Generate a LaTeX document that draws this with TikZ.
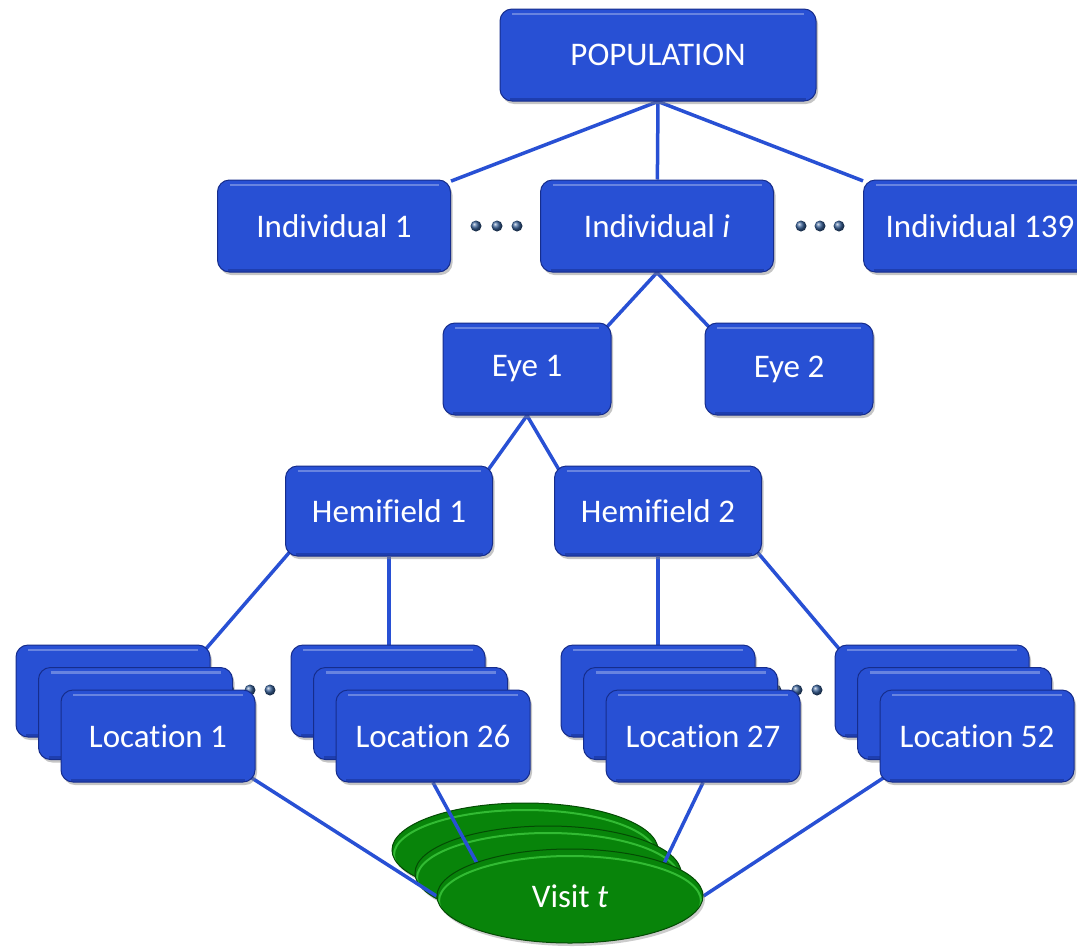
\documentclass[tikz,border=0pt]{standalone}
\usepackage{fontspec}
\setmainfont{Carlito}[Ligatures={NoCommon}]
\usetikzlibrary{shapes.geometric, shadows}

\definecolor{boxblue}{RGB}{40,80,212}
\definecolor{rimblue}{RGB}{22,45,140}
\definecolor{visitgreen}{RGB}{8,132,10}
\definecolor{rimgreen}{RGB}{4,75,4}
\definecolor{beadblue}{RGB}{55,95,150}

\pgfdeclarelayer{ground}
\pgfdeclarelayer{links}
\pgfsetlayers{ground,links,main}

\tikzset{
  block/.style={rectangle, rounded corners=12pt, draw=rimblue, line width=1pt, fill=boxblue,
    text=white, font=\fontsize{33}{36}\selectfont, inner sep=0pt,
    drop shadow={shadow xshift=2pt, shadow yshift=-3pt, opacity=0.45},
    path picture={\draw[white, opacity=0.3, line width=2.5pt]
      ([xshift=12pt, yshift=-5pt]path picture bounding box.north west) --
      ([xshift=-12pt, yshift=-5pt]path picture bounding box.north east);
      \draw[rimblue, opacity=0.5, line width=3pt]
      ([xshift=10pt, yshift=2pt]path picture bounding box.south west) --
      ([xshift=-10pt, yshift=2pt]path picture bounding box.south east);}},
  locbox/.style={block, minimum width=194pt, minimum height=92pt},
  visit/.style={ellipse, draw=rimgreen, line width=1pt, fill=visitgreen, text=white,
    font=\fontsize{33}{36}\selectfont, inner sep=0pt, minimum width=266pt, minimum height=94pt,
    drop shadow={shadow xshift=2pt, shadow yshift=-3pt, opacity=0.4},
    path picture={\draw[green!60!white, opacity=0.45, line width=2pt]
      ([yshift=-5pt]path picture bounding box.center) ellipse [x radius=131pt, y radius=45pt];}},
  link/.style={draw=boxblue, line width=3.5pt},
  bead/.style={circle, ball color=beadblue, minimum size=11pt, inner sep=0pt}
}

\begin{document}
\begin{tikzpicture}[x=1pt, y=-1pt]
\useasboundingbox (0,0) rectangle (1077,948);
\clip (0,0) rectangle (1077,948);

\begin{pgfonlayer}{ground}
  \fill[white] (0,0) rectangle (1077,948);
  \node[visit] (visit-back) at (525,850) {};
  \node[visit] (visit-mid) at (548,873) {};
\end{pgfonlayer}
\node[visit] (visit) at (570,896) {Visit \textit{t}};

\node[block, minimum width=316pt, minimum height=92pt] (pop) at (658,55) {POPULATION};
\foreach \x/\n/\t in {334/ind1/1, 657/indi/\textit{i}, 980/ind139/139}
  \node[block, minimum width=233pt, minimum height=92pt] (\n) at (\x,226) {Individual \t};

\node[block, minimum width=168pt, minimum height=92pt] (eye1) at (527,369) {Eye 1};
\node[block, minimum width=168pt, minimum height=92pt] (eye2) at (789,369) {Eye 2};

\node[block, minimum width=207pt, minimum height=90pt] (hem1) at (389,511) {Hemifield 1};
\node[block, minimum width=207pt, minimum height=90pt] (hem2) at (658,511) {Hemifield 2};

\foreach \x/\y [count=\k] in {476/226, 497/226, 517/226, 801/226, 820/226, 839/226,
                              229/690, 250/690, 270/690, 776/690, 797/690, 817/690}
  \node[bead] (bead\k) at (\x,\y) {};

\foreach \x/\n/\t in {158/loc1/1, 433/loc26/26, 703/loc27/27, 977/loc52/52}
{
  \node[locbox] (\n-back) at (\x-45,691) {};
  \node[locbox] (\n-mid) at (\x-22.5,713.5) {};
  \node[locbox] (\n) at (\x,736) {Location \t};
}

\coordinate (v26) at (484,876);
\coordinate (v27) at (658,876);

\begin{pgfonlayer}{links}
  \foreach \n in {ind1, indi, ind139}
    \draw[link] (pop.south) -- (\n);
  \draw[link] (indi.south) -- ([shift={(-6,6)}]eye1.north east);
  \draw[link] (indi.south) -- ([shift={(6,6)}]eye2.north west);
  \draw[link] (eye1.south) -- ([shift={(-6,6)}]hem1.north east);
  \draw[link] (eye1.south) -- ([shift={(6,6)}]hem2.north west);
  \draw[link] ([shift={(6,-6)}]hem1.south west) -- ([shift={(-6,6)}]loc1-back.north east);
  \draw[link] (hem1.south) -- (hem1.south |- loc26-back.north);
  \draw[link] (hem2.south) -- (hem2.south |- loc27-back.north);
  \draw[link] ([shift={(-6,-6)}]hem2.south east) -- ([shift={(6,6)}]loc52-back.north west);
  \draw[link] ([shift={(-6,-6)}]loc1.south east) -- (visit.west);
  \draw[link] (loc26.south) -- (v26);
  \draw[link] (loc27.south) -- (v27);
  \draw[link] ([shift={(6,-6)}]loc52.south west) -- (visit.east);
\end{pgfonlayer}
\end{tikzpicture}
\end{document}
